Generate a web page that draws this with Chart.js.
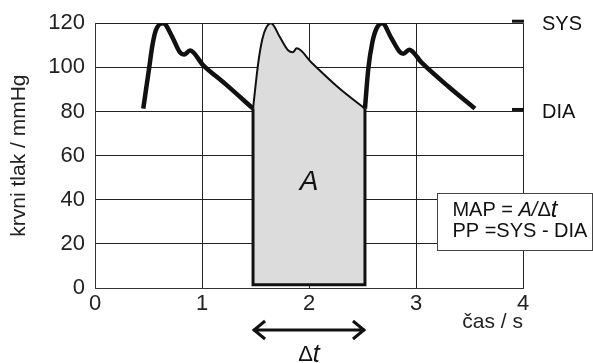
<!DOCTYPE html>
<html>
<head>
<meta charset="utf-8">
<script src="https://cdn.jsdelivr.net/npm/chart.js@4.4.0/dist/chart.umd.min.js"></script>
<style>
  html, body { margin: 0; padding: 0; background: #fff; }
  #wrap { width: 593px; height: 363px; }
</style>
</head>
<body>
<div id="wrap"><canvas id="bp" width="593" height="363"></canvas></div>
<script>
// pressure waveform (t in s, p in mmHg)
var pulse1Time = [0.451, 0.505, 0.536, 0.567, 0.638, 0.717, 0.794, 0.832, 0.888, 1.012, 1.215, 1.477];
var pulse1Pressure = [81.3, 99.3, 109.8, 116.6, 120, 114.3, 106.8, 105.8, 107.6, 100.9, 92.6, 81.3];

var pulse2Time = [1.477, 1.526, 1.564, 1.600, 1.645, 1.729, 1.807, 1.848, 1.885, 2.025, 2.274, 2.523];
var pulse2Pressure = [81.3, 102.1, 112.8, 118.0, 120, 113.6, 107.6, 106.8, 108.6, 102.1, 90.9, 81.3];

var pulse3Time = [2.523, 2.554, 2.592, 2.630, 2.685, 2.766, 2.845, 2.881, 2.937, 3.053, 3.302, 3.551];
var pulse3Pressure = [81.3, 99.3, 111.3, 117.5, 120, 113.6, 107.2, 106.1, 108, 102.1, 91.3, 81.3];

var xTickValues = [0, 1, 2, 3, 4];
var yTickValues = [0, 20, 40, 60, 80, 100, 120];
var levelNames = ['SYS', 'DIA'];
var levelValues = [120, 80];
var areaBase = 1.5;

var FONT = '"Liberation Sans", Arial, sans-serif';

function toPoints(ts, ps) {
  var out = [];
  for (var i = 0; i < ts.length; i++) out.push({ x: ts[i], y: ps[i] });
  return out;
}

// outline of the shaded area: left, bottom, right sides
var t0 = pulse2Time[0], t1 = pulse2Time[pulse2Time.length - 1];
var boxPoints = [
  { x: t0, y: pulse2Pressure[0] },
  { x: t0, y: areaBase },
  { x: t1, y: areaBase },
  { x: t1, y: pulse2Pressure[pulse2Pressure.length - 1] }
];

function drawRich(ctx, parts, x, y) {
  for (var i = 0; i < parts.length; i++) {
    ctx.font = parts[i][1];
    ctx.fillText(parts[i][0], x, y);
    x += ctx.measureText(parts[i][0]).width;
  }
}

function richWidth(ctx, parts) {
  var w = 0;
  for (var i = 0; i < parts.length; i++) {
    ctx.font = parts[i][1];
    w += ctx.measureText(parts[i][0]).width;
  }
  return w;
}

var annotations = {
  id: 'annotations',
  afterDraw: function (chart) {
    var ctx = chart.ctx, xs = chart.scales.x, ys = chart.scales.y, area = chart.chartArea;
    ctx.save();
    ctx.fillStyle = '#111';
    ctx.strokeStyle = '#111';

    // SYS / DIA markers on the right
    ctx.lineWidth = 3;
    ctx.textAlign = 'left';
    ctx.textBaseline = 'middle';
    ctx.font = '20px ' + FONT;
    for (var i = 0; i < levelNames.length; i++) {
      var py = ys.getPixelForValue(levelValues[i]);
      ctx.beginPath();
      ctx.moveTo(area.right - 11, py - 2);
      ctx.lineTo(area.right + 1, py - 2);
      ctx.stroke();
      ctx.fillText(levelNames[i], area.right + 19, py + 1);
    }

    // A inside the shaded area
    var midX = xs.getPixelForValue((t0 + t1) / 2);
    ctx.textAlign = 'center';
    ctx.font = 'italic 28px ' + FONT;
    ctx.fillText('A', midX, ys.getPixelForValue(48));

    // delta t arrow
    var ax0 = xs.getPixelForValue(t0), ax1 = xs.getPixelForValue(t1);
    var ay = area.bottom + 42;
    ctx.lineWidth = 3;
    ctx.beginPath();
    ctx.moveTo(ax0, ay); ctx.lineTo(ax1, ay);
    ctx.moveTo(ax0 + 12, ay - 9); ctx.lineTo(ax0 + 1, ay); ctx.lineTo(ax0 + 12, ay + 9);
    ctx.moveTo(ax1 - 12, ay - 9); ctx.lineTo(ax1 - 1, ay); ctx.lineTo(ax1 - 12, ay + 9);
    ctx.stroke();

    ctx.textAlign = 'left';
    var dt = [['\u0394', '22px ' + FONT], ['t', 'italic 25px ' + FONT]];
    drawRich(ctx, dt, midX - richWidth(ctx, dt) / 2, area.bottom + 67);

    // formula box
    var bx = xs.getPixelForValue(3.2), by0 = ys.getPixelForValue(43), by1 = ys.getPixelForValue(17);
    var bw = chart.width - 1 - bx;
    ctx.fillStyle = '#fff';
    ctx.fillRect(bx, by0, bw, by1 - by0);
    ctx.lineWidth = 1;
    ctx.strokeStyle = '#444';
    ctx.strokeRect(Math.round(bx) + 0.5, Math.round(by0) + 0.5, Math.round(bw), Math.round(by1 - by0));
    ctx.fillStyle = '#111';
    drawRich(ctx, [
      ['MAP = ', '20px ' + FONT],
      ['A/', 'italic 20px ' + FONT],
      ['\u0394', '20px ' + FONT],
      ['t', 'italic 24px ' + FONT]
    ], bx + 15, by0 + 17);
    drawRich(ctx, [['PP =SYS - DIA', '20px ' + FONT]], bx + 15, by0 + 38);

    ctx.restore();
  }
};

var ctx = document.getElementById('bp').getContext('2d');
var chart = new Chart(ctx, {
  type: 'line',
  data: {
    datasets: [
      { data: toPoints(pulse1Time, pulse1Pressure), borderColor: '#111', borderWidth: 4.5,
        cubicInterpolationMode: 'monotone', pointRadius: 0, fill: false, order: 1 },
      { data: toPoints(pulse3Time, pulse3Pressure), borderColor: '#111', borderWidth: 4.5,
        cubicInterpolationMode: 'monotone', pointRadius: 0, fill: false, order: 1 },
      { data: boxPoints, borderColor: '#111', borderWidth: 3, tension: 0, pointRadius: 0,
        fill: false, borderJoinStyle: 'miter', order: 2 },
      { data: toPoints(pulse2Time, pulse2Pressure), borderColor: '#111', borderWidth: 2,
        cubicInterpolationMode: 'monotone', pointRadius: 0,
        fill: { value: areaBase }, backgroundColor: '#dcdcdc', order: 3 }
    ]
  },
  options: {
    responsive: false,
    animation: false,
    devicePixelRatio: 1,
    layout: { padding: { top: 21, right: 70, bottom: 0, left: 0 } },
    plugins: { legend: { display: false }, tooltip: { enabled: false } },
    scales: {
      x: {
        type: 'linear', min: 0, max: 4,
        afterBuildTicks: function (s) { s.ticks = xTickValues.map(function (v) { return { value: v }; }); },
        afterFit: function (s) { s.height = 75; },
        grid: { color: '#222', lineWidth: 1, drawTicks: false },
        border: { color: '#333' },
        ticks: { color: '#222', padding: 3, font: { family: FONT, size: 22 }, maxRotation: 0 },
        title: { display: true, text: 'čas / s', align: 'end', color: '#222',
          font: { family: FONT, size: 21 }, padding: { top: 0, bottom: 28 } }
      },
      y: {
        min: 0, max: 120,
        afterBuildTicks: function (s) { s.ticks = yTickValues.map(function (v) { return { value: v }; }); },
        afterFit: function (s) { s.width = 95; },
        grid: { color: '#222', lineWidth: 1, drawTicks: false },
        border: { color: '#333' },
        ticks: { color: '#222', padding: 10, font: { family: FONT, size: 22 } },
        title: { display: true, text: 'krvni tlak / mmHg', color: '#222',
          font: { family: FONT, size: 21 }, padding: { top: 7, bottom: 0 } }
      }
    }
  },
  plugins: [annotations]
});
</script>
</body>
</html>
